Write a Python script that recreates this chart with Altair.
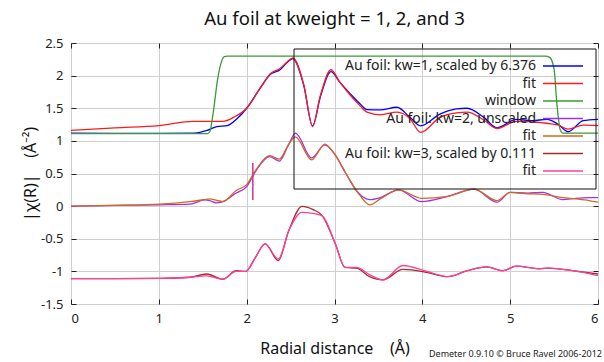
import altair as alt
import pandas as pd

# ---------------- data ----------------
# kw=1 (scaled by 6.376) data and fit
r_kw1 = [0, 0.5, 1.0, 1.4, 1.55, 1.66, 1.78, 1.89, 2.0, 2.15, 2.27, 2.38, 2.46, 2.525,
         2.65, 2.75, 2.84, 2.96, 3.06, 3.18, 3.29, 3.37, 3.52, 3.71, 3.86, 3.98, 4.2,
         4.39, 4.51, 4.7, 4.85, 5.07, 5.25, 5.42, 5.55, 5.66, 5.83, 6.0]
chi_kw1 = [1.12, 1.115, 1.115, 1.12, 1.16, 1.22, 1.235, 1.34, 1.50, 1.80, 2.02, 2.09,
           2.20, 2.26, 1.85, 1.23, 1.68, 2.06, 1.90, 1.72, 1.57, 1.48, 1.475, 1.515,
           1.36, 1.23, 1.41, 1.49, 1.50, 1.36, 1.20, 1.33, 1.31, 1.33, 1.25, 1.14, 1.31, 1.33]
r_fit1 = [0, 0.5, 1.0, 1.39, 1.73, 1.85, 2.0, 2.15, 2.27, 2.38, 2.46, 2.525, 2.65, 2.75,
          2.84, 2.96, 3.06, 3.18, 3.29, 3.37, 3.52, 3.71, 3.86, 3.98, 4.2, 4.39, 4.51,
          4.7, 4.85, 5.07, 5.25, 5.42, 5.55, 5.66, 5.83, 6.0]
chi_fit1 = [1.16, 1.20, 1.235, 1.30, 1.30, 1.36, 1.50, 1.80, 2.03, 2.11, 2.21, 2.27,
            1.86, 1.22, 1.70, 2.09, 1.90, 1.70, 1.54, 1.44, 1.40, 1.44, 1.34, 1.13,
            1.36, 1.43, 1.44, 1.32, 1.19, 1.30, 1.29, 1.27, 1.24, 1.18, 1.24, 1.235]

# window
r_win = [0, 1.55, 1.58, 1.62, 1.67, 1.71, 1.745, 1.78, 5.40, 5.45, 5.50, 5.53, 5.57, 5.60, 6.0]
chi_win = [1.11, 1.11, 1.14, 1.44, 1.95, 2.20, 2.29, 2.30, 2.30, 2.28, 2.10, 1.60, 1.17, 1.12, 1.12]

# kw=2 (unscaled) data and fit
r_kw2 = [0, 0.5, 1.01, 1.355, 1.52, 1.58, 1.65, 1.73, 1.88, 2.0, 2.1, 2.26, 2.37, 2.48,
         2.555, 2.74, 2.89, 3.0, 3.13, 3.26, 3.40, 3.52, 3.73, 3.99, 4.29, 4.59, 4.85,
         5.0, 5.2, 5.37, 5.6, 5.75, 5.9, 6.0]
chi_kw2 = [0.0, 0.01, 0.02, 0.03, 0.095, 0.085, 0.05, 0.07, 0.20, 0.30, 0.53, 0.76, 0.69,
           0.95, 1.12, 0.74, 0.94, 0.80, 0.50, 0.22, 0.10, 0.13, 0.25, 0.07, 0.15, 0.26,
           0.06, 0.21, 0.20, 0.21, 0.10, 0.12, 0.13, 0.13]
chi_fit2 = [0.0, 0.01, 0.03, 0.07, 0.10, 0.11, 0.09, 0.07, 0.24, 0.33, 0.545, 0.775, 0.72,
            0.95, 1.06, 0.71, 0.95, 0.80, 0.50, 0.22, 0.02, 0.11, 0.25, 0.12, 0.15, 0.26,
            0.085, 0.21, 0.19, 0.18, 0.13, 0.11, 0.085, 0.06]

# kw=3 (scaled by 0.111) data and fit
r_kw3 = [0, 0.5, 1.01, 1.355, 1.545, 1.73, 1.88, 1.99, 2.1, 2.21, 2.36, 2.48, 2.63, 2.75,
         2.86, 3.01, 3.12, 3.25, 3.40, 3.55, 3.78, 4.05, 4.29, 4.51, 4.73, 4.92, 5.07,
         5.33, 5.44, 5.71, 6.0]
chi_kw3 = [-1.11, -1.11, -1.107, -1.09, -1.04, -1.12, -0.99, -1.0, -0.785, -0.58, -0.835,
           -0.375, -0.005, -0.05, -0.145, -0.58, -0.94, -0.95, -1.08, -1.13, -0.97, -1.015,
           -1.08, -0.99, -0.93, -0.99, -0.92, -0.96, -0.95, -0.99, -1.04]
chi_fit3 = [-1.11, -1.11, -1.107, -1.09, -1.07, -1.12, -1.0, -1.0, -0.785, -0.58, -0.81,
            -0.375, -0.095, -0.11, -0.15, -0.58, -0.94, -0.94, -1.05, -1.13, -0.91, -1.0,
            -1.08, -0.99, -0.93, -0.99, -0.92, -0.96, -0.95, -0.99, -1.065]

# vertical marker
marker_r = [2.07]
marker_lo = [0.095]
marker_hi = [0.66]

legend_labels = ["Au foil: kw=1, scaled by 6.376", "fit", "window",
                 "Au foil: kw=2, unscaled", "fit",
                 "Au foil: kw=3, scaled by 0.111", "fit"]
series_colors = ["#0000ff", "#ff1a1a", "#3a9a3a", "#a030f0", "#d2691e", "#a52a2a", "#ff3fa0"]

x_ticks = [0, 1, 2, 3, 4, 5, 6]
y_ticks = [-1.5, -1, -0.5, 0, 0.5, 1, 1.5, 2, 2.5]

NB = "\u00a0"
title_text = "Au foil at kweight = 1, 2, and 3"
x_title = "Radial distance" + NB * 4 + "(Å)"
y_title = "|χ(R)|" + NB * 4 + "(Å⁻²)"
credit = "Demeter 0.9.10 © Bruce Ravel 2006-2012"

FONT = "Noto Sans"

# ---------------- chart ----------------
xscale = alt.Scale(domain=[0, 6], nice=False, zero=False)
yscale = alt.Scale(domain=[-1.5, 2.5], nice=False, zero=False)

main_x_axis = alt.Axis(values=x_ticks, grid=True, gridColor="#cfcfcf", ticks=False,
                       domain=False, labelFontSize=13, labelPadding=8, labelColor="#222",
                       labelFont=FONT, format="d", title=x_title, titleFont=FONT,
                       titleFontSize=16, titleFontWeight="normal", titlePadding=15,
                       titleColor="#111")
main_y_axis = alt.Axis(values=y_ticks, grid=True, gridColor="#cfcfcf", ticks=False,
                       domain=False, labelFontSize=13, labelPadding=8, labelColor="#222",
                       labelFont=FONT, labelExpr="'' + datum.value", title=y_title,
                       titleFont=FONT, titleFontSize=16, titleFontWeight="normal",
                       titlePadding=2, titleColor="#111")


def tick_axis(orient, values):
    return alt.Axis(orient=orient, values=values, offset=-5, tickSize=5, ticks=True,
                    tickColor="#222", domain=False, labels=False, grid=False, title="")


series = [
    (r_kw1, chi_kw1), (r_fit1, chi_fit1), (r_win, chi_win),
    (r_kw2, chi_kw2), (r_kw2, chi_fit2), (r_kw3, chi_kw3), (r_kw3, chi_fit3),
]

layers = []
for i, ((rr, yy), col) in enumerate(zip(series, series_colors)):
    df = pd.DataFrame({"r": rr, "chi": yy})
    if i == 0:
        xa, ya = main_x_axis, main_y_axis
    elif i == 1:
        xa, ya = tick_axis("bottom", x_ticks), tick_axis("left", y_ticks)
    elif i == 2:
        xa, ya = tick_axis("top", x_ticks), tick_axis("right", y_ticks)
    else:
        xa, ya = None, None
    layers.append(
        alt.Chart(df).mark_line(color=col, strokeWidth=1.3, interpolate="monotone", clip=True)
        .encode(x=alt.X("r:Q", scale=xscale, axis=xa),
                y=alt.Y("chi:Q", scale=yscale, axis=ya))
    )

marker = alt.Chart(pd.DataFrame({"r": marker_r, "lo": marker_lo, "hi": marker_hi})).mark_rule(
    color="#d0309a", strokeWidth=1.5
).encode(x=alt.X("r:Q", scale=xscale, axis=None),
         y=alt.Y("lo:Q", scale=yscale, axis=None), y2="hi:Q")

legend_df = pd.DataFrame({"label": legend_labels, "color": series_colors,
                          "row": list(range(len(legend_labels)))})

frame = alt.Chart(pd.DataFrame({"a": [0]})).mark_rect(
    filled=False, stroke="#111", strokeWidth=1
).encode(x=alt.value(223), x2=alt.value(525), y=alt.value(6), y2=alt.value(146))

leg_text = alt.Chart(legend_df).transform_calculate(ly="23 + 17.5 * datum.row").mark_text(
    align="right", baseline="middle", fontSize=14, font=FONT, color="#222"
).encode(x=alt.value(465), y=alt.Y("ly:Q", scale=None, axis=None), text="label:N")

leg_rule = alt.Chart(legend_df).transform_calculate(ly="23 + 17.5 * datum.row").mark_rule(
    strokeWidth=1.3
).encode(x=alt.value(472), x2=alt.value(512), y=alt.Y("ly:Q", scale=None, axis=None),
         color=alt.Color("color:N", scale=None))

credit_txt = alt.Chart(pd.DataFrame({"t": [credit]})).mark_text(
    align="right", baseline="middle", fontSize=9, font=FONT, color="#222"
).encode(x=alt.value(531), y=alt.value(311), text="t:N")

chart = alt.layer(*layers, marker, frame, leg_text, leg_rule, credit_txt).resolve_axis(
    x="independent", y="independent"
).properties(
    width=527, height=261,
    padding={"left": 71, "top": 43, "right": 6, "bottom": 58},
    autosize=alt.AutoSizeParams(type="none"),
    title=alt.TitleParams(title_text, font=FONT, fontSize=18.5, fontWeight="normal",
                          anchor="middle", offset=9, color="#111"),
).configure_view(stroke="#222", strokeWidth=1).configure(background="white")

chart.save("out.html", embed_options={"renderer": "svg", "actions": False})
